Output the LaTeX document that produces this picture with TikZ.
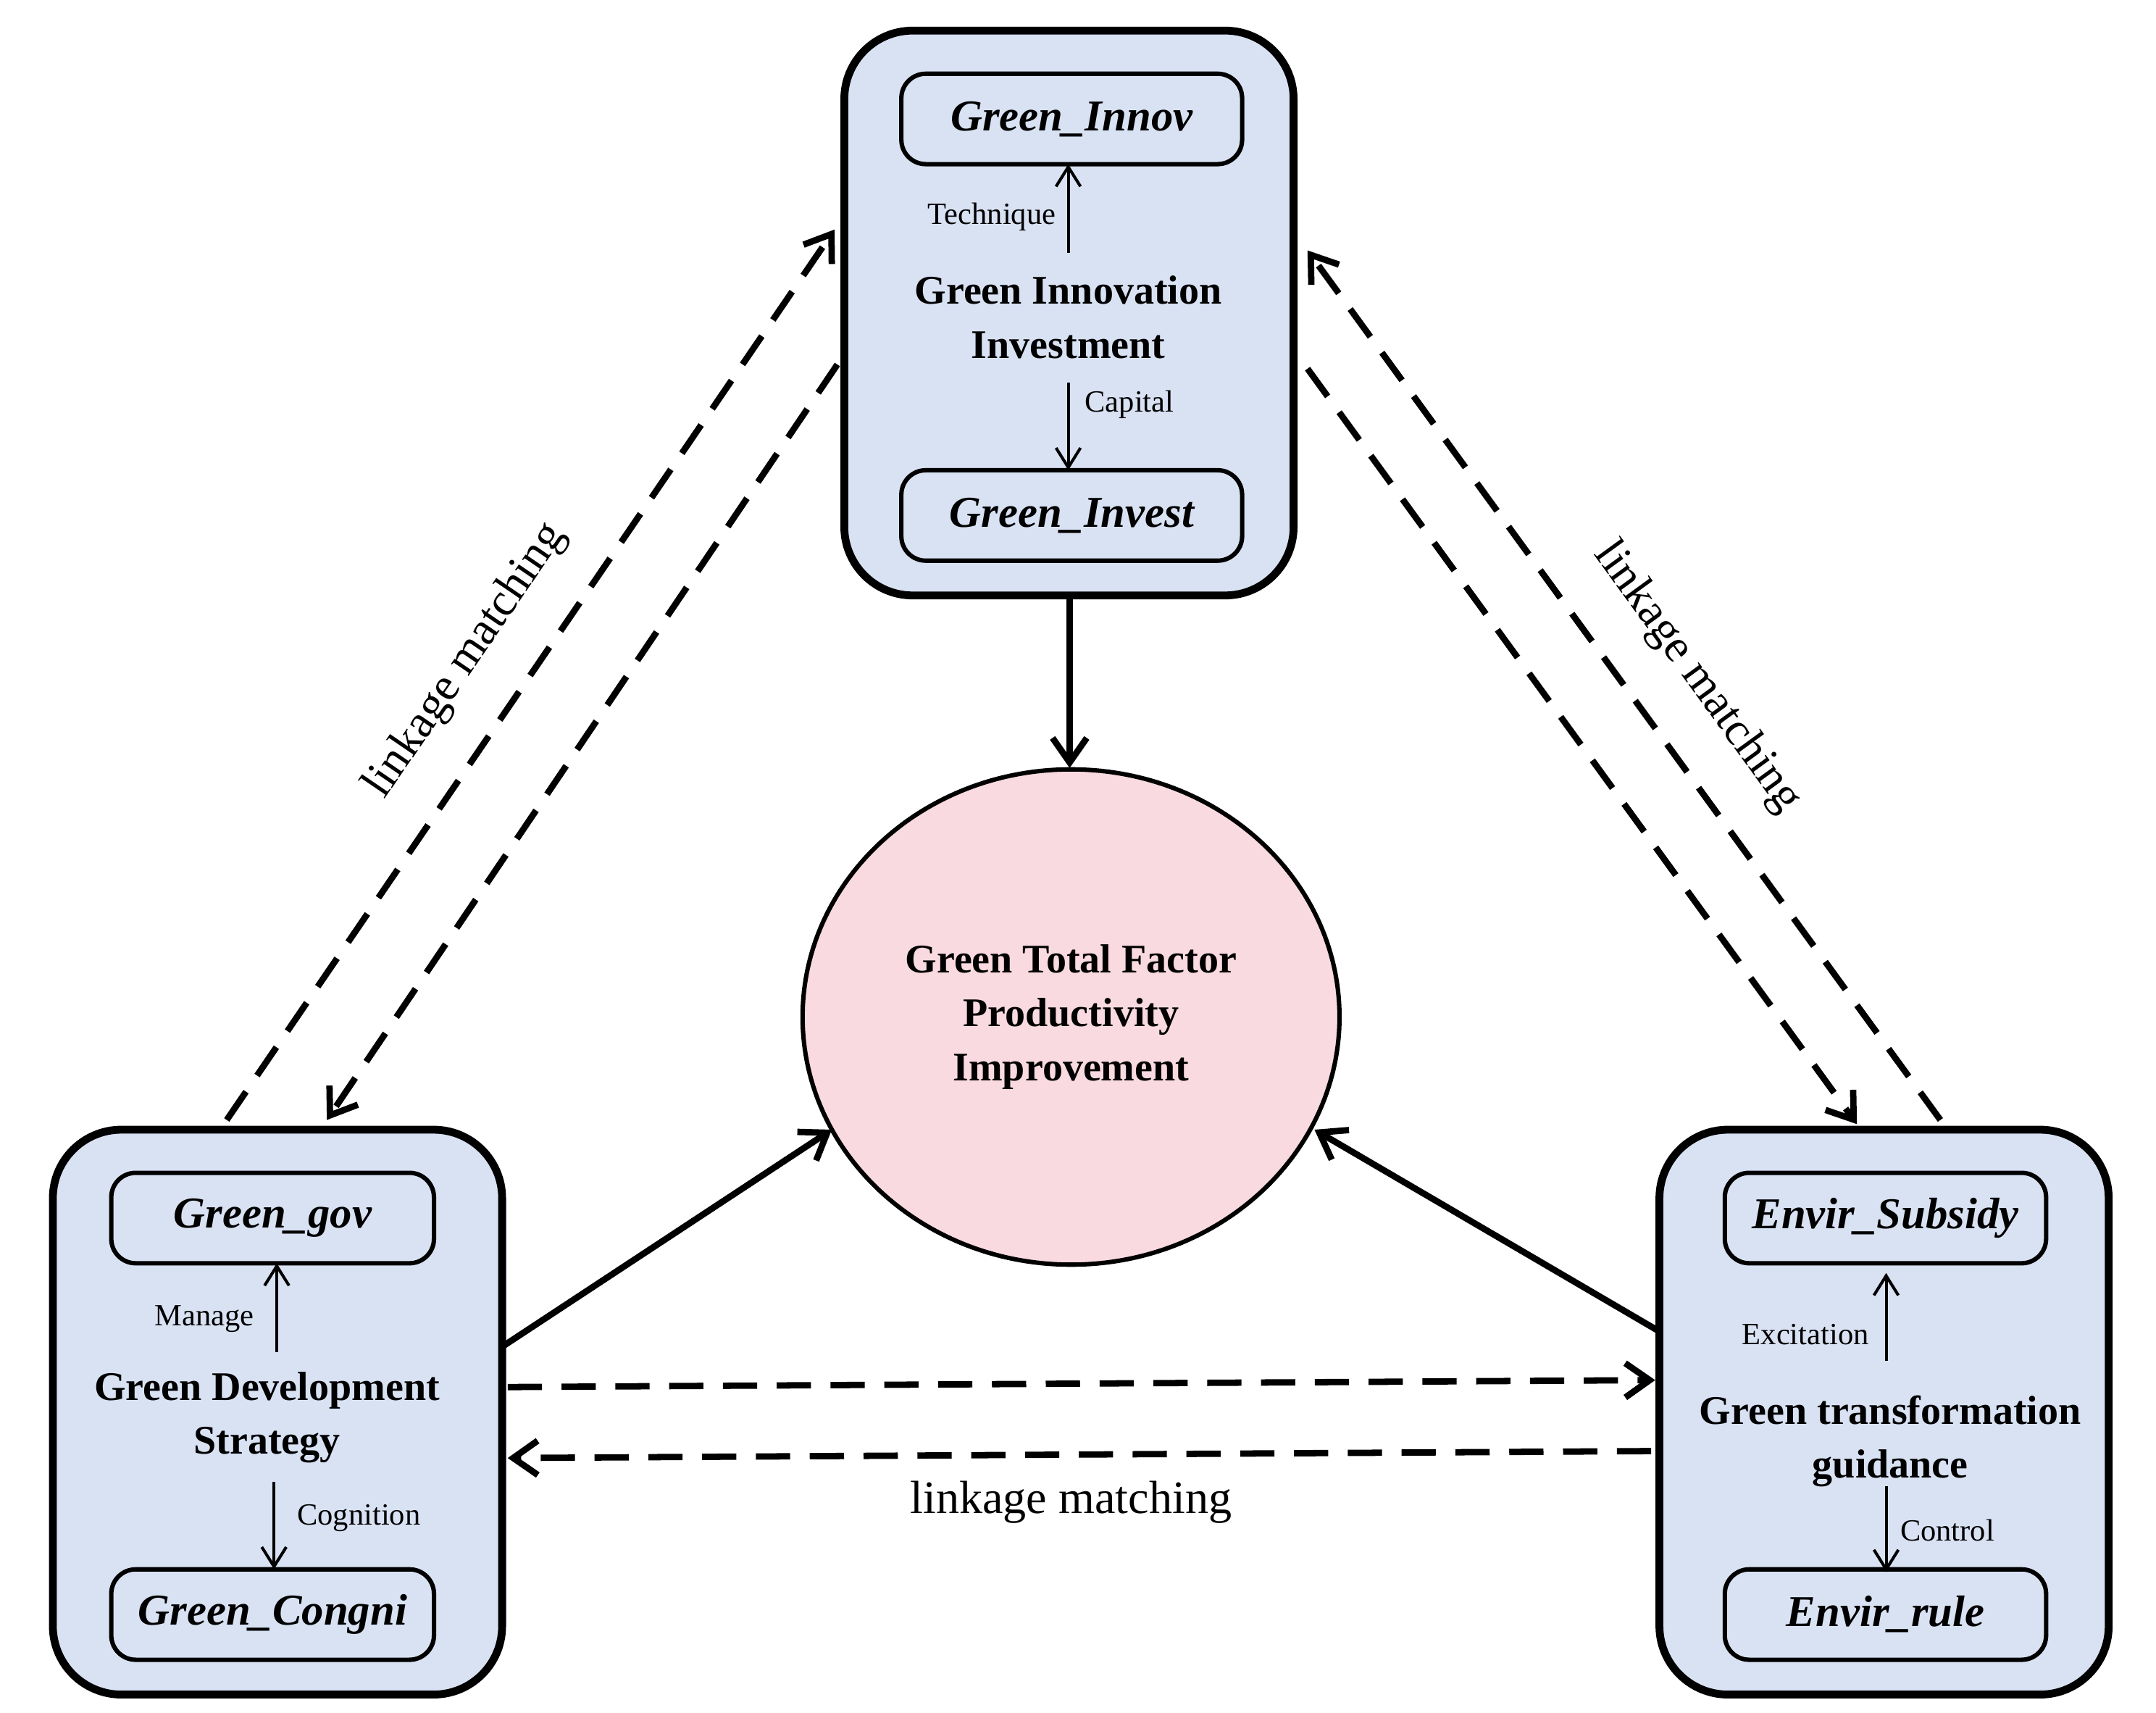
\documentclass[tikz,border=0pt]{standalone}
\usepackage{fontspec}
\setmainfont{Liberation Serif}
\usetikzlibrary{arrows.meta}
\definecolor{bx}{RGB}{217,226,243}
\definecolor{pk}{RGB}{249,218,224}
\begin{document}
\begin{tikzpicture}[x=0.01cm,y=-0.01cm,
 big/.style={draw,line width=1.6pt,fill=bx,rounded corners=14pt},
 inner/.style={draw,line width=0.9pt,fill=bx,rounded corners=5pt,font=\fontsize{9}{10}\selectfont\bfseries\itshape},
 main/.style={font=\fontsize{8.3}{11}\selectfont\bfseries,align=center},
 sm/.style={font=\fontsize{6.3}{7}\selectfont},
 lk/.style={font=\fontsize{9.5}{11}\selectfont},
 thn/.style={-{Straight Barb[length=4pt,width=5pt]},line width=0.6pt},
 sol/.style={-{Straight Barb[length=5pt,width=7pt]},line width=1.3pt},
 dsh/.style={-{Straight Barb[length=5pt,width=7pt]},line width=1.3pt,dash pattern=on 7pt off 4pt}]
\useasboundingbox (0,0) rectangle (1550,1231);
% boxes
\path[big] (607,22) rectangle (930,428);
\path[big] (38,812) rectangle (361,1218);
\path[big] (1193,812) rectangle (1516,1218);
\coordinate (Tb) at (769,428);
\coordinate (Lr) at (361,968);
\coordinate (Rl) at (1193,957);
% inner
\draw[inner] (648,53) rectangle node{Green\_Innov} (893,118);
\draw[inner] (648,338) rectangle node{Green\_Invest} (893,403);
\draw[inner] (80,843) rectangle node{Green\_gov} (312,908);
\draw[inner] (80,1128) rectangle node{Green\_Congni} (312,1193);
\draw[inner] (1240,843) rectangle node{Envir\_Subsidy} (1471,908);
\draw[inner] (1240,1128) rectangle node{Envir\_rule} (1471,1193);
% main texts
\node[main] (tt) at (768,228) {Green Innovation\\Investment};
\node[main] (lt) at (192,1019) {Green Development\\Strategy};
\node[main] (rt) at (1359,1036) {Green transformation\\guidance};
% circle
\path[draw,line width=0.9pt,fill=pk] (770,731) ellipse [x radius=193,y radius=178];
\node[main] (ct) at (770,731) {Green Total Factor\\Productivity\\Improvement};
% inner arrows
\coordinate (a1) at (768,182); \coordinate (a2) at (768,118);
\draw[thn] (a1) -- (a2); \node[sm] (l1) at (713,156) {Technique};
\coordinate (b1) at (768,275); \coordinate (b2) at (768,338);
\draw[thn] (b1) -- (b2); \node[sm] (l2) at (812,291) {Capital};
\coordinate (c1) at (199,972); \coordinate (c2) at (199,908);
\draw[thn] (c1) -- (c2); \node[sm] (l3) at (147,948) {Manage};
\coordinate (d1) at (197,1065); \coordinate (d2) at (197,1128);
\draw[thn] (d1) -- (d2); \node[sm] (l4) at (258,1091) {Cognition};
\coordinate (e1) at (1356,978); \coordinate (e2) at (1356,915);
\draw[thn] (e1) -- (e2); \node[sm] (l5) at (1298,959) {Excitation};
\coordinate (f1) at (1356,1068); \coordinate (f2) at (1356,1130);
\draw[thn] (f1) -- (f2); \node[sm] (l6) at (1400,1100) {Control};
% solid arrows
\coordinate (Ct) at (769,552); \coordinate (Cl) at (598,812); \coordinate (Cr) at (945,812);
\draw[sol] (Tb) -- (Ct);
\draw[sol] (Lr) -- (Cl);
\draw[sol] (Rl) -- (Cr);
% dashed
\coordinate (p1) at (163,805); \coordinate (p2) at (600,165);
\coordinate (p3) at (602,262); \coordinate (p4) at (235,805);
\coordinate (q1) at (1395,805); \coordinate (q2) at (940,180);
\coordinate (q3) at (940,265); \coordinate (q4) at (1335,808);
\coordinate (r1) at (365,997); \coordinate (r2) at (1190,992);
\coordinate (r3) at (1187,1043); \coordinate (r4) at (365,1048);
\draw[dsh] (p1) -- (p2); \draw[dsh] (p3) -- (p4);
\draw[dsh] (q1) -- (q2); \draw[dsh] (q3) -- (q4);
\draw[dsh] (r1) -- (r2); \draw[dsh] (r3) -- (r4);
\node[lk,rotate=55.7] (m1) at (335,475) {linkage matching};
\node[lk,rotate=-54] (m2) at (1220,487) {linkage matching};
\node[lk] (m3) at (770,1080) {linkage matching};
\end{tikzpicture}
\end{document}
